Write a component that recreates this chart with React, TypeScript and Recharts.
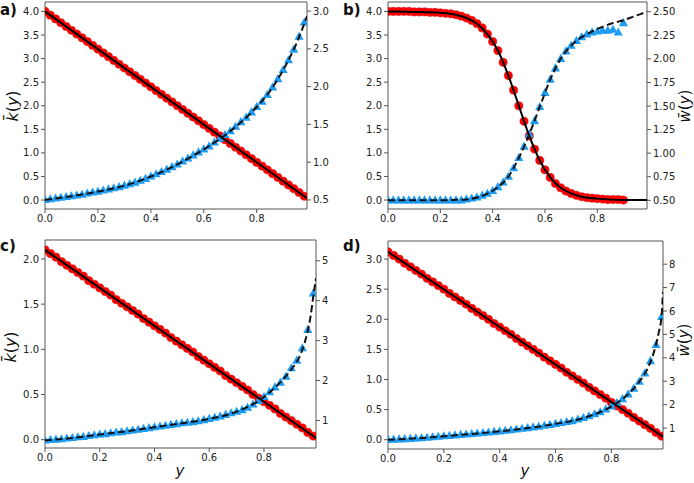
import React from 'react';
import { ComposedChart, Line, XAxis, YAxis, ReferenceLine } from 'recharts';

// ---------- data ----------
const xs = [0, 0.02, 0.04, 0.06, 0.08, 0.1, 0.12, 0.14, 0.16, 0.18, 0.2, 0.22, 0.24, 0.26, 0.28, 0.3, 0.32, 0.34, 0.36, 0.38, 0.4, 0.42, 0.44, 0.46, 0.48, 0.5, 0.52, 0.54, 0.56, 0.58, 0.6, 0.62, 0.64, 0.66, 0.68, 0.7, 0.72, 0.74, 0.76, 0.78, 0.8, 0.82, 0.84, 0.86, 0.88, 0.9, 0.92, 0.94, 0.96, 0.98];
const xTicks = [0, 0.2, 0.4, 0.6, 0.8];

// panel a
const aRed = [4.00, 3.92, 3.84, 3.76, 3.68, 3.60, 3.52, 3.44, 3.36, 3.28, 3.20, 3.12, 3.04, 2.96, 2.88, 2.80, 2.72, 2.64, 2.56, 2.48, 2.40, 2.32, 2.24, 2.16, 2.08, 2.00, 1.92, 1.84, 1.76, 1.68, 1.60, 1.52, 1.44, 1.36, 1.28, 1.20, 1.12, 1.04, 0.96, 0.88, 0.80, 0.72, 0.64, 0.56, 0.48, 0.40, 0.32, 0.24, 0.16, 0.08];
const aBlue = [0.50, 0.51, 0.52, 0.53, 0.54, 0.55, 0.56, 0.57, 0.585, 0.60, 0.61, 0.625, 0.64, 0.655, 0.67, 0.69, 0.71, 0.73, 0.755, 0.78, 0.81, 0.84, 0.87, 0.90, 0.935, 0.97, 1.01, 1.05, 1.09, 1.13, 1.17, 1.21, 1.26, 1.31, 1.36, 1.41, 1.47, 1.53, 1.59, 1.66, 1.73, 1.80, 1.89, 1.99, 2.10, 2.22, 2.35, 2.49, 2.66, 2.85];
const aSolidX = [0, 0.99];
const aSolid = [4.0, 0.04];
const aDashX = [0, 0.1, 0.2, 0.3, 0.4, 0.5, 0.6, 0.7, 0.8, 0.85, 0.9, 0.95, 0.99];
const aDash = [0.50, 0.55, 0.61, 0.69, 0.81, 0.97, 1.17, 1.41, 1.73, 1.94, 2.22, 2.57, 2.93];

// panel b
const bRed = [4.00, 4.00, 4.00, 4.00, 4.00, 3.99, 3.99, 3.99, 3.98, 3.98, 3.97, 3.96, 3.95, 3.93, 3.90, 3.86, 3.81, 3.74, 3.65, 3.52, 3.36, 3.17, 2.92, 2.64, 2.33, 2.00, 1.67, 1.36, 1.08, 0.84, 0.64, 0.48, 0.35, 0.26, 0.19, 0.14, 0.10, 0.07, 0.05, 0.04, 0.03, 0.02, 0.01, 0.01, 0.01, 0.00];
const bBlue = [0.50, 0.50, 0.50, 0.50, 0.50, 0.50, 0.50, 0.50, 0.50, 0.50, 0.50, 0.50, 0.50, 0.50, 0.50, 0.51, 0.52, 0.53, 0.55, 0.57, 0.60, 0.64, 0.69, 0.75, 0.84, 0.95, 1.07, 1.20, 1.34, 1.49, 1.64, 1.78, 1.90, 2.00, 2.08, 2.14, 2.19, 2.23, 2.26, 2.28, 2.29, 2.30, 2.30, 2.31, 2.28, 2.38];
const bSolidX = [0, 0.1, 0.2, 0.26, 0.3, 0.34, 0.38, 0.42, 0.46, 0.5, 0.54, 0.58, 0.62, 0.66, 0.7, 0.74, 0.8, 0.9, 0.99];
const bSolid = [4.00, 3.99, 3.97, 3.93, 3.86, 3.74, 3.52, 3.17, 2.64, 2.00, 1.36, 0.84, 0.48, 0.26, 0.14, 0.07, 0.03, 0.00, 0.00];
const bDashX = [0, 0.1, 0.2, 0.26, 0.3, 0.34, 0.38, 0.42, 0.46, 0.5, 0.54, 0.58, 0.62, 0.66, 0.7, 0.74, 0.78, 0.82, 0.86, 0.9, 0.94, 0.99];
const bDash = [0.50, 0.50, 0.50, 0.505, 0.51, 0.53, 0.57, 0.64, 0.75, 0.95, 1.20, 1.49, 1.78, 2.00, 2.14, 2.23, 2.29, 2.34, 2.38, 2.41, 2.45, 2.50];

// panel c
const cRed = [2.10, 2.06, 2.02, 1.97, 1.93, 1.89, 1.85, 1.81, 1.76, 1.72, 1.68, 1.64, 1.60, 1.55, 1.51, 1.47, 1.43, 1.39, 1.34, 1.30, 1.26, 1.22, 1.18, 1.13, 1.09, 1.05, 1.01, 0.97, 0.92, 0.88, 0.84, 0.80, 0.76, 0.71, 0.67, 0.63, 0.59, 0.55, 0.50, 0.46, 0.42, 0.38, 0.34, 0.29, 0.25, 0.21, 0.17, 0.13, 0.08, 0.04];
const cBlue = [0.50, 0.51, 0.52, 0.53, 0.55, 0.56, 0.58, 0.59, 0.61, 0.63, 0.65, 0.66, 0.68, 0.70, 0.71, 0.73, 0.75, 0.77, 0.79, 0.81, 0.83, 0.85, 0.87, 0.89, 0.91, 0.93, 0.945, 0.96, 0.98, 1.01, 1.04, 1.07, 1.10, 1.14, 1.18, 1.22, 1.26, 1.32, 1.40, 1.49, 1.59, 1.71, 1.83, 1.95, 2.10, 2.31, 2.50, 2.81, 3.27, 4.18];
const cSolidX = [0, 0.99];
const cSolid = [2.10, 0.02];
const cDashX = [0, 0.1, 0.2, 0.3, 0.4, 0.5, 0.6, 0.7, 0.8, 0.85, 0.9, 0.93, 0.95, 0.97, 0.98, 0.99];
const cDash = [0.50, 0.56, 0.65, 0.73, 0.83, 0.93, 1.04, 1.22, 1.59, 1.89, 2.28, 2.60, 2.98, 3.60, 4.10, 4.56];

// panel d
const dRed = [3.12, 3.06, 3.00, 2.93, 2.87, 2.81, 2.75, 2.68, 2.62, 2.56, 2.50, 2.43, 2.37, 2.31, 2.25, 2.18, 2.12, 2.06, 2.00, 1.93, 1.87, 1.81, 1.75, 1.68, 1.62, 1.56, 1.50, 1.44, 1.37, 1.31, 1.25, 1.19, 1.12, 1.06, 1.00, 0.94, 0.87, 0.81, 0.75, 0.69, 0.62, 0.56, 0.50, 0.44, 0.37, 0.31, 0.25, 0.19, 0.12, 0.06];
const dBlue = [0.50, 0.51, 0.52, 0.53, 0.54, 0.56, 0.57, 0.59, 0.61, 0.63, 0.65, 0.67, 0.69, 0.71, 0.73, 0.75, 0.77, 0.79, 0.81, 0.84, 0.86, 0.89, 0.91, 0.94, 0.97, 1.00, 1.03, 1.06, 1.10, 1.14, 1.18, 1.22, 1.26, 1.30, 1.37, 1.43, 1.51, 1.59, 1.68, 1.80, 1.93, 2.07, 2.24, 2.44, 2.68, 2.98, 3.34, 3.86, 4.55, 5.75];
const dSolidX = [0, 0.985];
const dSolid = [3.12, 0.05];
const dDashX = [0, 0.1, 0.2, 0.3, 0.4, 0.5, 0.6, 0.7, 0.8, 0.85, 0.9, 0.93, 0.95, 0.97, 0.98, 0.985];
const dDash = [0.50, 0.56, 0.65, 0.75, 0.86, 1.00, 1.18, 1.43, 1.93, 2.34, 2.98, 3.55, 4.15, 5.10, 5.80, 6.82];

// tick labels
const kTicksA = [0, 0.5, 1, 1.5, 2, 2.5, 3, 3.5, 4];
const wTicksA = [0.5, 1, 1.5, 2, 2.5, 3];
const wTicksB = [0.5, 0.75, 1, 1.25, 1.5, 1.75, 2, 2.25, 2.5];
const kTicksC = [0, 0.5, 1, 1.5, 2];
const wTicksC = [1, 2, 3, 4, 5];
const kTicksD = [0, 0.5, 1, 1.5, 2, 2.5, 3];
const wTicksD = [1, 2, 3, 4, 5, 6, 7, 8];

const rows = (x: number[], v: number[]) => v.map((val, i) => ({ x: x[i], v: val }));

// ---------- rendering ----------
const FONT = 'DejaVu Sans, sans-serif';
const AXIS = '#555';
const RED = '#ff0000';
const BLUE = '#1f9cf2';

const CircleDot = (props: any) => {
  const { cx, cy, index } = props;
  if (cx == null || cy == null || isNaN(cy)) return <g key={`c${index}`} />;
  return <circle key={`c${index}`} cx={cx} cy={cy} r={4.1} fill={RED} stroke="#d00000" strokeWidth={0.5} />;
};

const TriDot = (props: any) => {
  const { cx, cy, index } = props;
  if (cx == null || cy == null || isNaN(cy)) return <g key={`t${index}`} />;
  return (
    <path
      key={`t${index}`}
      d={`M${cx},${cy - 5}L${cx + 4.6},${cy + 3.1}L${cx - 4.6},${cy + 3.1}Z`}
      fill={BLUE}
    />
  );
};

const f1 = (v: number) => v.toFixed(1);
const f2 = (v: number) => v.toFixed(2);
const f0 = (v: number) => String(v);

type PanelProps = {
  left: number; top: number; width: number; height: number; mt: number;
  lW: number; rW: number; xH: number; xMax: number;
  lDomain: number[]; lTicks: number[]; lFmt: (v: number) => string;
  rDomain: number[]; rTicks: number[]; rFmt: (v: number) => string;
  red: any[]; blue: any[]; solid: any[]; dashed: any[]; solidType: 'linear' | 'monotone';
};

function Panel(p: PanelProps) {
  const tickStyle = { fill: '#222', fontSize: 10, fontFamily: FONT };
  return (
    <div style={{ position: 'absolute', left: p.left, top: p.top, width: p.width, height: p.height }}>
      {/* base: axes and markers */}
      <div style={{ position: 'absolute', left: 0, top: 0 }}>
        <ComposedChart width={p.width} height={p.height} margin={{ top: p.mt, right: 0, bottom: 0, left: 0 }}>
          <XAxis
            dataKey="x" type="number" domain={[0, p.xMax]} ticks={xTicks} tickFormatter={f1}
            allowDataOverflow height={p.xH} tickSize={4} tickMargin={2} stroke={AXIS}
            tick={tickStyle} interval={0}
          />
          <YAxis
            yAxisId="l" orientation="left" type="number" domain={p.lDomain} ticks={p.lTicks}
            tickFormatter={p.lFmt} allowDataOverflow width={p.lW} tickSize={4} tickMargin={2}
            stroke={AXIS} tick={tickStyle} interval={0}
          />
          <YAxis
            yAxisId="r" orientation="right" type="number" domain={p.rDomain} ticks={p.rTicks}
            tickFormatter={p.rFmt} allowDataOverflow width={p.rW} tickSize={4} tickMargin={2}
            stroke={AXIS} tick={tickStyle} interval={0}
          />
          <ReferenceLine yAxisId="l" y={p.lDomain[1]} stroke={AXIS} strokeWidth={1} />
          <Line yAxisId="l" data={p.red} dataKey="v" stroke="none" dot={CircleDot} activeDot={false} isAnimationActive={false} />
          <Line yAxisId="r" data={p.blue} dataKey="v" stroke="none" dot={TriDot} activeDot={false} isAnimationActive={false} />
        </ComposedChart>
      </div>
      {/* overlay: theory curves drawn above the markers */}
      <div style={{ position: 'absolute', left: 0, top: 0 }}>
        <ComposedChart width={p.width} height={p.height} margin={{ top: p.mt, right: p.rW, bottom: p.xH, left: p.lW }}>
          <XAxis dataKey="x" type="number" domain={[0, p.xMax]} allowDataOverflow hide />
          <YAxis yAxisId="l" type="number" domain={p.lDomain} allowDataOverflow hide />
          <YAxis yAxisId="r" orientation="right" type="number" domain={p.rDomain} allowDataOverflow hide />
          <Line yAxisId="l" data={p.solid} dataKey="v" type={p.solidType} stroke="#000" strokeWidth={2} dot={false} activeDot={false} isAnimationActive={false} />
          <Line yAxisId="r" data={p.dashed} dataKey="v" type="monotone" stroke="#111" strokeWidth={2} strokeDasharray="7 3.5" dot={false} activeDot={false} isAnimationActive={false} />
        </ComposedChart>
      </div>
    </div>
  );
}

export default function App() {
  const labelStyle = { fontFamily: FONT, fill: '#111' };
  return (
    <div style={{ position: 'absolute', left: 0, top: 0, width: 694, height: 483, background: '#fff', overflow: 'hidden' }}>
      <Panel
        left={0} top={0} width={350} height={240} mt={2} lW={45} rW={43} xH={31} xMax={0.99}
        lDomain={[-0.19, 4.2]} lTicks={kTicksA} lFmt={f1}
        rDomain={[0.38, 3.12]} rTicks={wTicksA} rFmt={f1}
        red={rows(xs, aRed)} blue={rows(xs, aBlue)} solid={rows(aSolidX, aSolid)} dashed={rows(aDashX, aDash)} solidType="linear"
      />
      <Panel
        left={345} top={0} width={349} height={240} mt={2} lW={43} rW={47} xH={31} xMax={0.99}
        lDomain={[-0.19, 4.2]} lTicks={kTicksA} lFmt={f1}
        rDomain={[0.408, 2.603]} rTicks={wTicksB} rFmt={f2}
        red={rows(xs, bRed)} blue={rows(xs, bBlue)} solid={rows(bSolidX, bSolid)} dashed={rows(bDashX, bDash)} solidType="monotone"
      />
      <Panel
        left={0} top={235} width={345} height={248} mt={5} lW={45} rW={29} xH={35} xMax={0.99}
        lDomain={[-0.092, 2.21]} lTicks={kTicksC} lFmt={f1}
        rDomain={[0.31, 5.52]} rTicks={wTicksC} rFmt={f0}
        red={rows(xs, cRed)} blue={rows(xs, cBlue)} solid={rows(cSolidX, cSolid)} dashed={rows(cDashX, cDash)} solidType="linear"
      />
      <Panel
        left={345} top={235} width={349} height={248} mt={6} lW={43} rW={31} xH={34} xMax={0.985}
        lDomain={[-0.154, 3.3]} lTicks={kTicksD} lFmt={f1}
        rDomain={[0.106, 8.99]} rTicks={wTicksD} rFmt={f0}
        red={rows(xs, dRed)} blue={rows(xs, dBlue)} solid={rows(dSolidX, dSolid)} dashed={rows(dDashX, dDash)} solidType="linear"
      />
      <svg width={694} height={483} style={{ position: 'absolute', left: 0, top: 0, pointerEvents: 'none' }}>
        <g style={labelStyle}>
          <text x={0} y={15} fontSize={15} fontWeight="bold">a)</text>
          <text x={343} y={15} fontSize={15} fontWeight="bold">b)</text>
          <text x={0} y={251} fontSize={15} fontWeight="bold">c)</text>
          <text x={343} y={251} fontSize={15} fontWeight="bold">d)</text>

          <text x={12} y={106} fontSize={16} textAnchor="middle" dominantBaseline="central" transform="rotate(-90 12 106)">
            <tspan fontStyle="italic">{'k\u0304'}</tspan>(<tspan fontStyle="italic">y</tspan>)
          </text>
          <text x={10} y={347} fontSize={16} textAnchor="middle" dominantBaseline="central" transform="rotate(-90 10 347)">
            <tspan fontStyle="italic">{'k\u0304'}</tspan>(<tspan fontStyle="italic">y</tspan>)
          </text>
          <text x={685} y={106} fontSize={15} textAnchor="middle" dominantBaseline="central" transform="rotate(-90 685 106)">
            <tspan fontStyle="italic">{'w\u0304'}</tspan>(<tspan fontStyle="italic">y</tspan>)
          </text>
          <text x={684} y={340} fontSize={15} textAnchor="middle" dominantBaseline="central" transform="rotate(-90 684 340)">
            <tspan fontStyle="italic">{'w\u0304'}</tspan>(<tspan fontStyle="italic">y</tspan>)
          </text>

          <text x={180} y={476} fontSize={15} fontStyle="italic" textAnchor="middle">y</text>
          <text x={525} y={476} fontSize={15} fontStyle="italic" textAnchor="middle">y</text>
        </g>
      </svg>
    </div>
  );
}
